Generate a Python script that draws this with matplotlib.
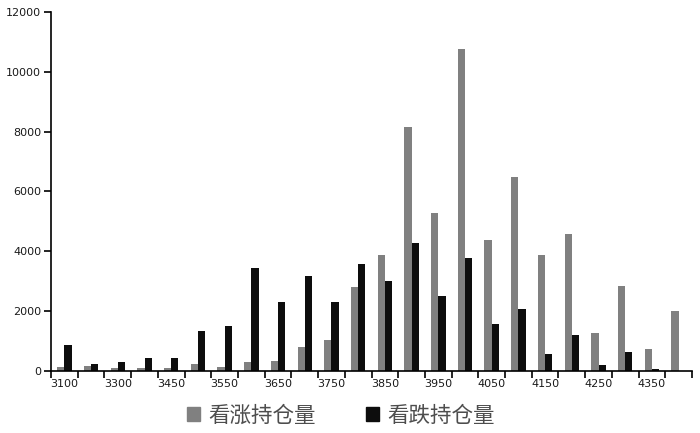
import numpy as np
import matplotlib.pyplot as plt
from matplotlib.patches import Patch

plt.rcParams['font.family'] = ['Noto Sans CJK SC', 'DejaVu Sans']

# 行权价
strikes = [3100, 3200, 3300, 3400] + list(range(3450, 4401, 50))
# 看涨持仓量
calls = [130, 160, 90, 100, 100, 230, 130, 290, 330, 800, 1030, 2810,
         3870, 8150, 5280, 10750, 4390, 6470, 3870, 4590, 1280, 2850, 720, 2020]
# 看跌持仓量
puts = [860, 250, 290, 420, 420, 1350, 1510, 3430, 2300, 3190, 2300, 3570,
        3010, 4280, 2500, 3790, 1570, 2060, 555, 1200, 210, 620, 75, 0]

fig = plt.figure(figsize=(7, 4.33), dpi=100)
ax = fig.add_axes([0.0729, 0.1432, 0.9157, 0.8291])

x = np.arange(len(strikes))
w = 0.27
ax.bar(x - w / 2, calls, width=w, color="#808080", zorder=2)
ax.bar(x + w / 2, puts, width=w, color="#0d0d0d", zorder=2)

ax.set_xlim(-0.5, len(strikes) - 0.5)
ax.set_ylim(0, 12000)
ax.set_yticks(range(0, 12001, 2000))

# 刻度在类别边界, 标签每隔一个
ax.set_xticks(np.arange(-0.5, len(strikes), 1.0))
ax.set_xticklabels([])
ax.set_xticks(x[::2], minor=True)
ax.set_xticklabels([str(s) for s in strikes[::2]], minor=True)
ax.tick_params(axis="x", which="minor", length=0, pad=6, labelsize=8)
ax.tick_params(axis="x", which="major", length=5, width=1.2, direction="out")
ax.tick_params(axis="y", length=5, width=1.2, direction="out", labelsize=8, pad=2)
for lab in ax.get_xticklabels(minor=True) + ax.get_yticklabels():
    lab.set_family("DejaVu Sans")
    lab.set_color("#1a1a1a")

for s in ["top", "right"]:
    ax.spines[s].set_visible(False)
for s in ["left", "bottom"]:
    ax.spines[s].set_linewidth(1.2)

handles = [Patch(color="#808080", label="看涨持仓量"),
           Patch(color="#0d0d0d", label="看跌持仓量")]
fig.legend(handles=handles, loc="center", bbox_to_anchor=(0.487, 0.04),
           ncol=2, frameon=False, fontsize=15.5, labelcolor="#4d4d4d",
           handlelength=0.6, handleheight=0.6, handletextpad=0.4,
           columnspacing=2.3)

fig.savefig("out.png", dpi=100)
